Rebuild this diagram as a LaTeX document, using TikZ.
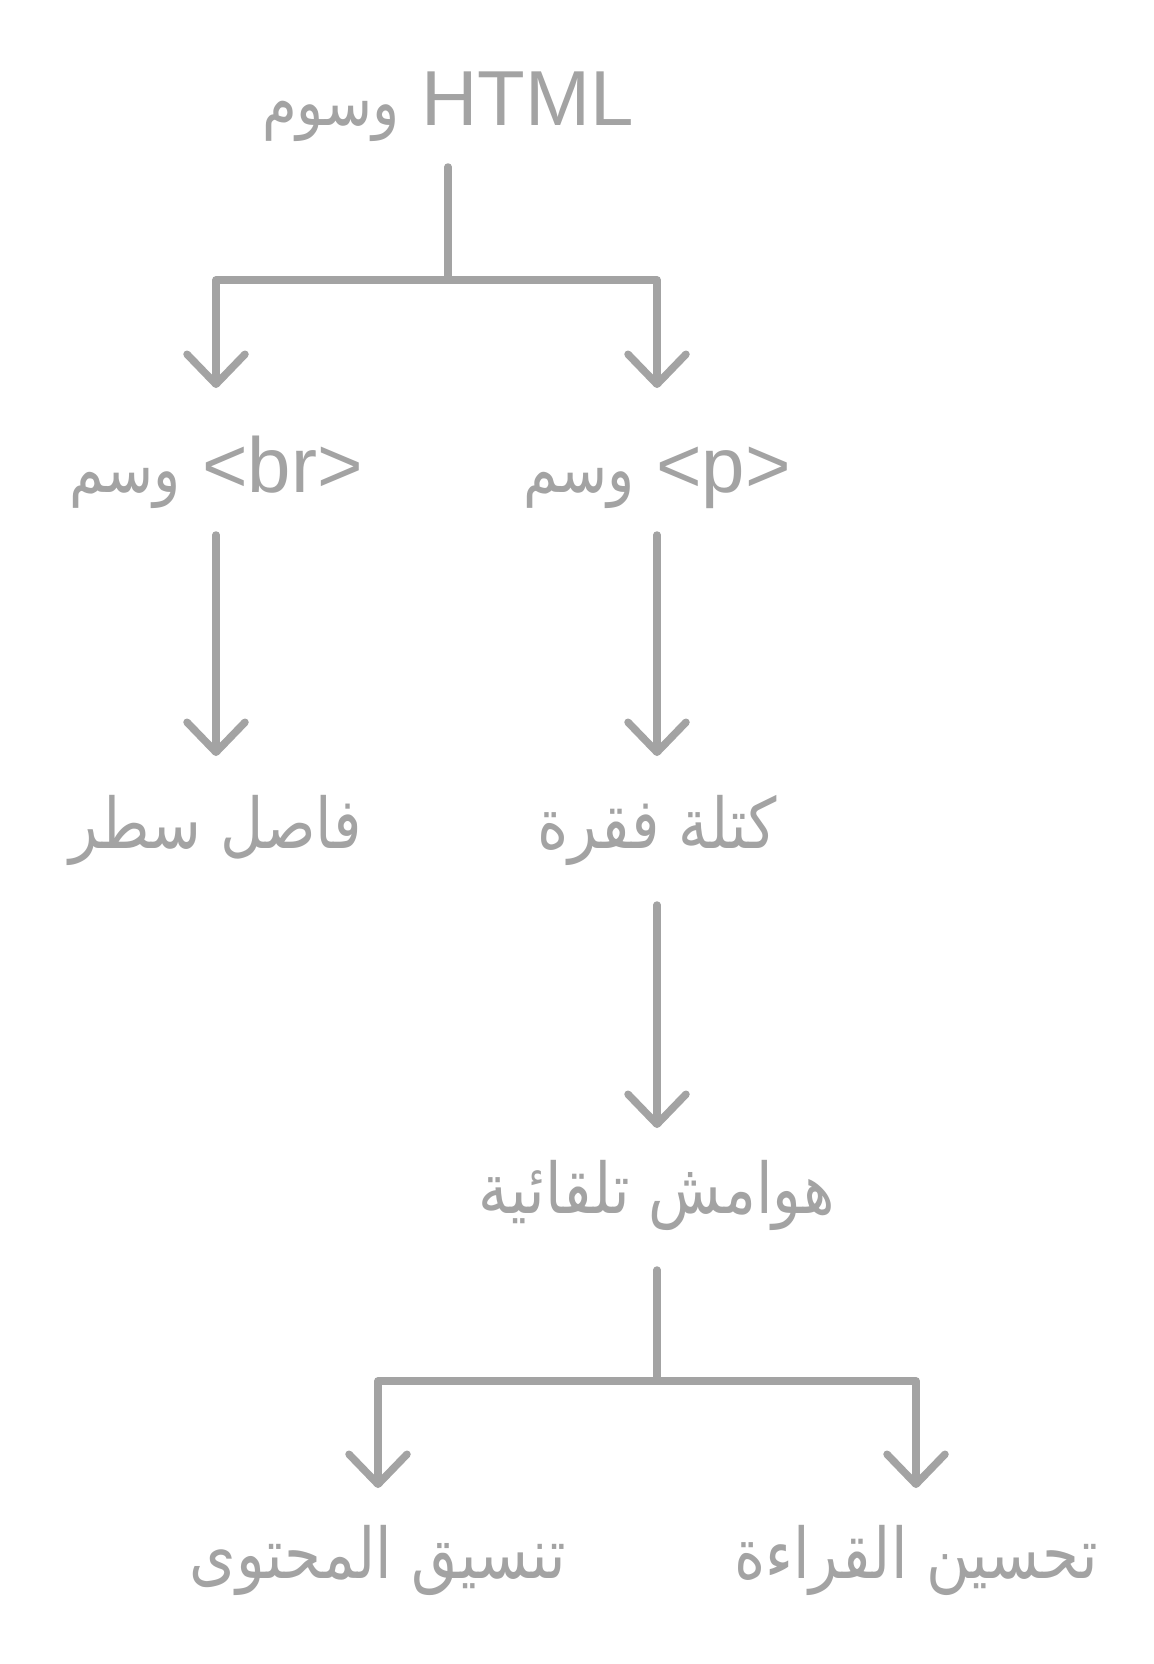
\documentclass[tikz,border=0pt]{standalone}
\usepackage{fontspec}
\setmainfont{Liberation Sans}
\newfontfamily\arabicfont[Script=Arabic,FakeStretch=0.85]{DejaVu Sans}
\TeXXeTstate=1
\usetikzlibrary{arrows.meta}
\definecolor{lg}{RGB}{163,163,163}
\newcommand{\ar}[1]{{\arabicfont\fontsize{66bp}{80bp}\selectfont\beginR #1\endR}}
\newcommand{\arb}[1]{{\arabicfont\fontsize{70bp}{84bp}\selectfont\beginR #1\endR}}
\begin{document}
\begin{tikzpicture}[x=1bp,y=-1bp,
  lbl/.style={anchor=base,inner sep=0pt,text=lg,font=\fontsize{78bp}{90bp}\selectfont},
  conn/.style={draw=lg,line width=7.5bp,line cap=round,line join=round},
  arr/.style={conn,-{Straight Barb[length=30bp,width=58bp,round]}}]
\useasboundingbox (0,0) rectangle (1153,1664);
\fill[white] (0,0) rectangle (1153,1664);
\node[lbl] (root) at (448,125) {\ar{وسوم} HTML};
\node[lbl] (br) at (216,492) {\ar{وسم} <br>};
\node[lbl] (p) at (657,492) {\ar{وسم} <p>};
\node[lbl] (lb) at (216,848) {\arb{فاصل سطر}};
\node[lbl] (pb) at (657,848) {\arb{كتلة فقرة}};
\node[lbl] (m) at (657,1213) {\arb{هوامش تلقائية}};
\node[lbl] (c1) at (378,1578) {\arb{تنسيق المحتوى}};
\node[lbl] (c2) at (916,1578) {\arb{تحسين القراءة}};
\coordinate (j1) at (448,280);
\coordinate (j2) at (657,1381);
\draw[conn] ([yshift=-42bp]root.base) -- (j1);
\draw[arr] (j1) -| ([yshift=104bp]br.base);
\draw[arr] (j1) -| ([yshift=104bp]p.base);
\draw[arr] ([yshift=-43bp]br.base) -- ([yshift=92bp]lb.base);
\draw[arr] ([yshift=-43bp]p.base) -- ([yshift=92bp]pb.base);
\draw[arr] ([yshift=-57bp]pb.base) -- ([yshift=85bp]m.base);
\draw[conn] ([yshift=-57bp]m.base) -- (j2);
\draw[arr] (j2) -| ([yshift=90bp]c1.base);
\draw[arr] (j2) -| ([yshift=90bp]c2.base);
\end{tikzpicture}
\end{document}
